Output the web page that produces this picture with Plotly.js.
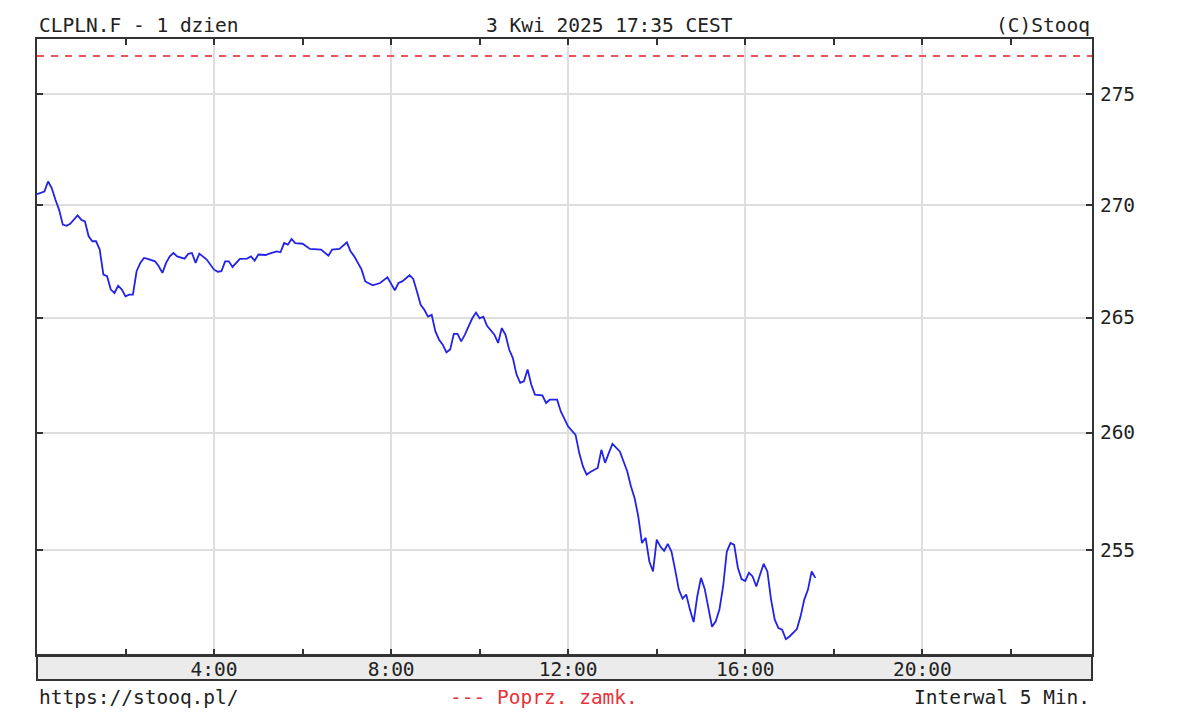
<!DOCTYPE html>
<html>
<head>
<meta charset="utf-8">
<script src="https://cdn.plot.ly/plotly-3.0.1.min.js"></script>
<style>
  body { margin: 0; background: #fff; }
  #chart { width: 1184px; height: 716px; }
</style>
</head>
<body>
<div id="chart"></div>
<script>
  // 5 min bars, 3 Apr 2025
  var day = '2025-04-03 ';
  var times = [
    '00:00','00:10','00:15','00:20','00:25','00:30','00:35','00:40','00:45','00:55',
    '01:00','01:05','01:10','01:15','01:20','01:25','01:30','01:35','01:40','01:45',
    '01:50','01:55','02:00','02:05','02:10','02:15','02:20','02:25','02:30','02:40',
    '02:45','02:50','02:55','03:00','03:05','03:10','03:20','03:25','03:30','03:35',
    '03:40','03:50','04:00','04:05','04:10','04:15','04:20','04:25','04:35','04:45',
    '04:50','04:55','05:00','05:10','05:15','05:25','05:30','05:35','05:40','05:45',
    '05:50','06:00','06:10','06:25','06:35','06:40','06:50','07:00','07:05','07:10',
    '07:20','07:25','07:35','07:45','07:55','08:00','08:05','08:10','08:15','08:25',
    '08:30','08:35','08:40','08:45','08:50','08:55','09:00','09:05','09:10','09:15',
    '09:20','09:25','09:30','09:35','09:40','09:45','09:50','09:55','10:00','10:05',
    '10:10','10:20','10:25','10:30','10:35','10:40','10:45','10:50','10:55','11:00',
    '11:05','11:10','11:15','11:25','11:30','11:35','11:45','11:50','11:55','12:00',
    '12:10','12:15','12:20','12:25','12:30','12:40','12:45','12:50','12:55','13:00',
    '13:10','13:15','13:20','13:25','13:30','13:35','13:40','13:45','13:50','13:55',
    '14:00','14:05','14:10','14:15','14:20','14:25','14:30','14:35','14:40','14:45',
    '14:50','14:55','15:00','15:05','15:10','15:15','15:20','15:25','15:30','15:35',
    '15:40','15:45','15:50','15:55','16:00','16:05','16:10','16:15','16:20','16:25',
    '16:30','16:35','16:40','16:45','16:50','16:55','17:00','17:10','17:15','17:20',
    '17:25','17:30','17:35'
  ];
  var prices = [
    270.47,270.59,271.04,270.74,270.22,269.77,269.11,269.06,269.15,269.52,
    269.33,269.25,268.59,268.37,268.37,268.00,266.89,266.82,266.23,266.08,
    266.40,266.23,265.93,266.01,266.01,267.04,267.41,267.63,267.59,267.48,
    267.26,266.97,267.41,267.70,267.85,267.70,267.60,267.81,267.85,267.41,
    267.82,267.56,267.11,267.02,267.04,267.48,267.48,267.23,267.59,267.60,
    267.70,267.51,267.78,267.76,267.82,267.92,267.88,268.29,268.22,268.47,
    268.29,268.26,268.03,268.00,267.73,268.00,268.03,268.32,267.92,267.70,
    267.11,266.59,266.42,266.52,266.77,266.45,266.20,266.52,266.59,266.86,
    266.70,266.15,265.56,265.34,265.04,265.12,264.39,264.03,263.81,263.48,
    263.60,264.29,264.29,263.96,264.25,264.61,264.97,265.22,264.97,265.04,
    264.64,264.25,263.89,264.54,264.25,263.60,263.23,262.51,262.15,262.22,
    262.73,262.07,261.64,261.61,261.28,261.42,261.42,260.91,260.55,260.26,
    259.90,259.12,258.55,258.20,258.31,258.48,259.26,258.70,259.12,259.52,
    259.19,258.76,258.34,257.70,257.20,256.42,255.29,255.51,254.51,254.09,
    255.43,255.14,254.96,255.25,254.93,254.16,253.33,252.95,253.12,252.49,
    251.97,253.05,253.82,253.37,252.49,251.77,252.00,252.49,253.46,254.93,
    255.29,255.21,254.25,253.77,253.69,254.03,253.88,253.46,253.95,254.41,
    254.09,252.91,252.07,251.72,251.65,251.26,251.37,251.68,252.21,252.91,
    253.33,254.09,253.82
  ];
  var prevClose = 276.73;   // Poprz. zamk.
  var yTicks = [255, 260, 265, 270, 275];
  var xTicks = ['04:00', '08:00', '12:00', '16:00', '20:00'];
  var xStart = '00:00', xEnd = '23:50';

  var font = 'DejaVu Sans Mono, Liberation Mono, monospace';
  var ink = '#222';

  var x_array = times.map(function(t) { return day + t; });

  var trace0 = {
    x: x_array,
    y: prices,
    type: 'scatter',
    mode: 'lines',
    line: {color: '#2323e8', width: 1.8},
    hoverinfo: 'skip'
  };

  var trace1 = {
    x: [day + xStart, day + xEnd],
    y: [prevClose, prevClose],
    type: 'scatter',
    mode: 'lines',
    line: {color: '#e8555a', width: 2, dash: '7px,7px'},
    hoverinfo: 'skip'
  };

  var gridColor = '#dedede';
  var axisColor = '#333';

  var layout = {
    width: 1184,
    height: 716,
    margin: {l: 37, r: 92, t: 39, b: 61},
    paper_bgcolor: '#fff',
    plot_bgcolor: '#fff',
    showlegend: false,
    font: {family: font, size: 19.5, color: ink},
    xaxis: {
      type: 'date',
      range: [day + xStart, day + xEnd],
      tickmode: 'array',
      tickvals: xTicks.map(function(t) { return day + t; }),
      ticktext: xTicks.map(function(t) { return t.replace(/^0/, ''); }),
      showgrid: true,
      gridcolor: gridColor,
      gridwidth: 2,
      ticks: 'inside',
      ticklen: 6,
      tickwidth: 2,
      tickcolor: axisColor,
      showline: true,
      linecolor: axisColor,
      linewidth: 2,
      mirror: 'ticks',
      zeroline: false,
      ticklabelstandoff: -4,
      minor: {
        tickmode: 'linear',
        tick0: day + '00:00',
        dtick: 2 * 3600 * 1000,
        ticks: 'inside',
        ticklen: 6,
        tickwidth: 2,
        tickcolor: axisColor,
        showgrid: false
      },
      tickfont: {family: font, size: 19.5, color: ink}
    },
    yaxis: {
      type: 'log',
      side: 'right',
      range: [Math.log10(250.60), Math.log10(277.51)],
      tickmode: 'array',
      tickvals: yTicks,
      ticktext: yTicks.map(String),
      showgrid: true,
      gridcolor: gridColor,
      gridwidth: 2,
      ticks: 'inside',
      ticklen: 6,
      tickwidth: 2,
      tickcolor: axisColor,
      showline: true,
      linecolor: axisColor,
      linewidth: 2,
      mirror: 'ticks',
      zeroline: false,
      ticklabelstandoff: 2,
      tickfont: {family: font, size: 19.5, color: ink}
    },
    shapes: [{
      type: 'rect',
      xref: 'paper', yref: 'paper',
      x0: 0, x1: 1, y0: -25 / 616, y1: 0,
      fillcolor: '#ebebeb',
      line: {color: axisColor, width: 2},
      layer: 'below'
    }],
    annotations: [
      {text: 'CLPLN.F - 1 dzien', xref: 'paper', yref: 'paper', x: 0, y: 1.0227,
       xanchor: 'left', yanchor: 'middle', showarrow: false},
      {text: '3 Kwi 2025 17:35 CEST', xref: 'paper', yref: 'paper', x: 0.5431, y: 1.0227,
       xanchor: 'center', yanchor: 'middle', showarrow: false},
      {text: '(C)Stooq', xref: 'paper', yref: 'paper', x: 1, y: 1.0227,
       xanchor: 'right', yanchor: 'middle', showarrow: false},
      {text: 'https://stooq.pl/', xref: 'paper', yref: 'paper', x: 0, y: -0.0682,
       xanchor: 'left', yanchor: 'middle', showarrow: false},
      {text: '--- Poprz. zamk.', xref: 'paper', yref: 'paper', x: 0.3896, y: -0.0682,
       xanchor: 'left', yanchor: 'middle', showarrow: false, font: {color: '#e8333a'}},
      {text: 'Interwal 5 Min.', xref: 'paper', yref: 'paper', x: 1, y: -0.0682,
       xanchor: 'right', yanchor: 'middle', showarrow: false}
    ]
  };

  Plotly.newPlot('chart', [trace1, trace0], layout, {staticPlot: true, displayModeBar: false});
</script>
</body>
</html>
